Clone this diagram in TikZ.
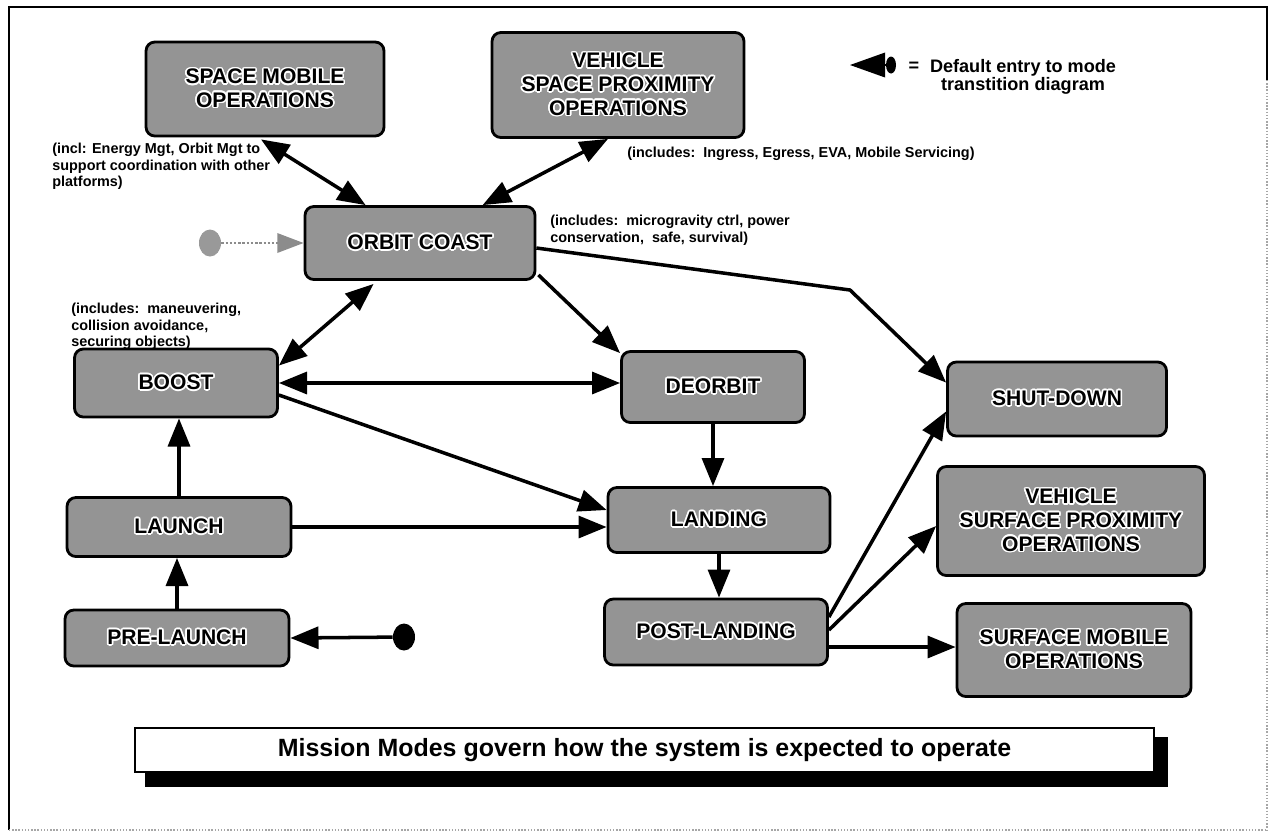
\documentclass[tikz,border=0pt]{standalone}
\usepackage{fontspec}
\setmainfont{Liberation Sans}
\usepackage{contour}
\contourlength{0.9pt}
\usetikzlibrary{arrows.meta,calc,shapes.geometric}

% white halo round the mode labels
\newcommand{\hl}[1]{\contour{white}{#1}}

\begin{document}
\begin{tikzpicture}[x=0.02cm,y=-0.02cm,
  mode/.style={draw=black, line width=1.6pt, rounded corners=5pt, fill=black!42,
    font=\bfseries\fontsize{12}{13.5}\selectfont, align=center, inner sep=0pt},
  note/.style={font=\bfseries\fontsize{8.2}{9.4}\selectfont, align=left, inner sep=0pt},
  link/.style={line width=2pt, -{Triangle[length=16pt,width=12.5pt]}},
  both/.style={line width=2pt, {Triangle[length=16pt,width=12.5pt]}-{Triangle[length=16pt,width=12.5pt]}},
  entrydot/.style={ellipse, fill=black, inner sep=0pt, minimum width=0.44cm, minimum height=0.54cm},
]
\useasboundingbox (0,0) rectangle (1270,833);

% page frame
\draw[line width=1.3pt] (9,830) -- (9,7) -- (1267,7) -- (1267,80);
\draw[gray!70, line width=0.8pt, densely dotted] (1267,80) -- (1267,830);
\draw[gray!70, line width=0.8pt, densely dotted] (9,830) -- (1267,830);

% mission modes
\node[mode, minimum width=4.76cm, minimum height=1.88cm] (sm) at (265,89)
  {\hl{SPACE MOBILE}\\\hl{OPERATIONS}};
\node[mode, minimum width=5.04cm, minimum height=2.10cm] (vsp) at (618,85)
  {\hl{VEHICLE}\\\hl{SPACE PROXIMITY}\\\hl{OPERATIONS}};
\node[mode, minimum width=4.6cm, minimum height=1.46cm] (oc) at (420,243)
  {\hl{ORBIT COAST}};
\node[mode, minimum width=4.06cm, minimum height=1.36cm] (boost) at (176,383)
  {\hl{BOOST}};
\node[mode, minimum width=3.66cm, minimum height=1.42cm] (deo) at (713,387)
  {\hl{DEORBIT}};
\node[mode, minimum width=4.38cm, minimum height=1.48cm] (sd) at (1057,399)
  {\hl{SHUT-DOWN}};
\node[mode, minimum width=4.48cm, minimum height=1.18cm] (launch) at (179,527)
  {\hl{LAUNCH}};
\node[mode, minimum width=4.44cm, minimum height=1.30cm] (land) at (719,520)
  {\hl{LANDING}};
\node[mode, minimum width=5.34cm, minimum height=2.18cm] (vsurf) at (1071,521)
  {\hl{VEHICLE}\\\hl{SURFACE PROXIMITY}\\\hl{OPERATIONS}};
\node[mode, minimum width=4.48cm, minimum height=1.12cm] (pre) at (177,638)
  {\hl{PRE-LAUNCH}};
\node[mode, minimum width=4.46cm, minimum height=1.32cm] (post) at (716,632)
  {\hl{POST-LANDING}};
\node[mode, minimum width=4.68cm, minimum height=1.86cm] (smo) at (1074,650)
  {\hl{SURFACE MOBILE}\\\hl{OPERATIONS}};

% notes
\node[note, anchor=north west] (n1) at (52,143)
  {(incl: Energy Mgt, Orbit Mgt to\\support coordination with other\\platforms)};
\node[note, anchor=west] (n2) at (627,154)
  {(includes:\ \ Ingress, Egress, EVA, Mobile Servicing)};
\node[note, anchor=north west] (n3) at (550,215)
  {(includes:\ \ microgravity ctrl, power\\conservation,\ \ safe, survival)};
\node[note, anchor=north west] (n4) at (71,303)
  {(includes:\ \ maneuvering,\\collision avoidance,\\securing objects)};

% legend
\node[ellipse, fill=black, inner sep=0pt, minimum width=0.2cm, minimum height=0.34cm] (ldot) at (891,65) {};
\coordinate (ltip) at (850,65);
\draw[line width=1pt, -{Triangle[length=20pt,width=14pt]}] (ldot.center) -- (ltip);
\node[font=\bfseries\fontsize{10.3}{11}\selectfont, inner sep=0pt] (leq) at (914,67) {=};
\node[font=\bfseries\fontsize{10.3}{10.6}\selectfont, align=center, inner sep=0pt] (ltxt) at (1023,77)
  {Default entry to mode\\transtition diagram};

% default entry (grey) into orbit coast
\node[ellipse, fill=black!40, inner sep=0pt, minimum width=0.44cm, minimum height=0.54cm] (gdot) at (210,243) {};
\draw[black!45, line width=1.4pt, densely dotted, -{Triangle[length=15pt,width=11pt]}]
  (gdot) -- (oc.west);

% default entry into pre-launch
\node[entrydot] (edot) at (404,637) {};
\draw[link] (edot) -- (pre.east);

% transitions
\draw[both] ($(sm.south)+(-4,2)$) -- ($(oc.north west)+(62,0)$);
\draw[both] ($(vsp.south)+(-10,0)$) -- ($(oc.north west)+(179,0)$);
\coordinate (bend) at (850,290);
\draw[link] ($(oc.east)+(0,5)$) -- (bend) -- ($(sd.north west)+(0,22)$);
\draw[link] ($(oc.south east)+(2,-6)$) -- ($(deo.north west)+(0,3)$);
\draw[both] ($(boost.north east)+(0,18)$) -- ($(oc.south west)+(70,3)$);
\draw[both] (boost.east) -- (boost.east -| deo.west);
\draw[link] ($(boost.east)+(0,12)$) -- ($(land.west)+(0,-10)$);
\draw[link] (launch.east) -- (launch.east -| land.west);
\draw[link] (launch.north) -- (launch.north |- boost.south);
\draw[link] (pre.north) -- (pre.north |- launch.south);
\draw[link] (deo.south) -- (deo.south |- land.north);
\draw[link] (land.south) -- (land.south |- post.north);
\draw[link] ($(post.east)+(0,-15)$) -- ($(sd.south west)+(0,-26)$);
\draw[link] ($(post.east)+(0,-2)$) -- ($(vsurf.west)+(0,5)$);
\draw[link] ($(post.east)+(0,15)$) -- ($(smo.west)+(0,-3)$);

% caption banner with drop shadow
\fill[black] (145,737) rectangle (1168,787);
\node[draw=black, line width=1.5pt, fill=white, minimum width=20.38cm, minimum height=0.88cm,
  inner sep=0pt, font=\bfseries\fontsize{14.2}{16}\selectfont] (banner) at (644.5,750)
  {Mission Modes govern how the system is expected to operate};
\end{tikzpicture}
\end{document}
